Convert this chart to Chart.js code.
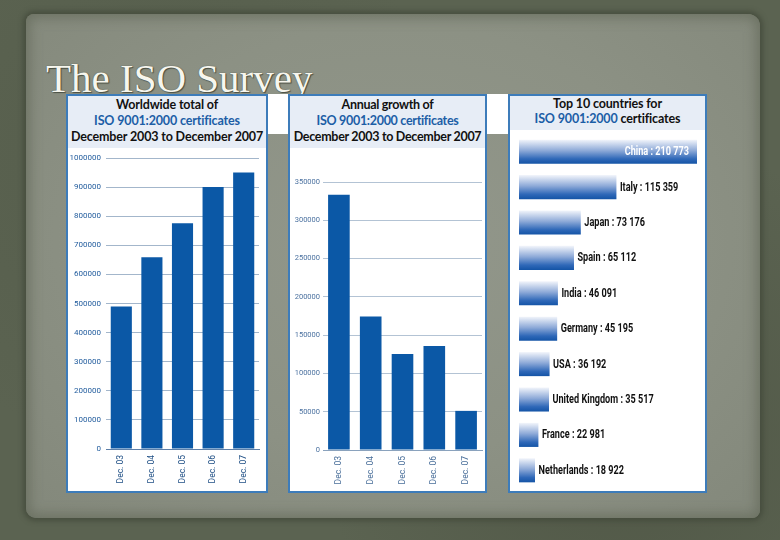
<!DOCTYPE html>
<html>
<head>
<meta charset="utf-8">
<script src="https://cdn.jsdelivr.net/npm/chart.js@4/dist/chart.umd.min.js"></script>
<style>
  html, body { margin: 0; padding: 0; }
  body {
    width: 780px; height: 540px; position: relative; overflow: hidden;
    background:
      radial-gradient(circle at 20% 30%, rgba(80,88,70,0.5) 0, rgba(80,88,70,0) 40%),
      radial-gradient(circle at 80% 80%, rgba(70,76,60,0.5) 0, rgba(70,76,60,0) 40%),
      #5b6351;
  }
  .paper {
    position: absolute; left: 26px; top: 14px; width: 734px; height: 504px;
    border-radius: 8px 12px 8px 10px;
    background: radial-gradient(ellipse at 50% 45%, #92978b 0%, #8c9184 55%, #83887b 100%);
    box-shadow: 0 0 5px 3px rgba(66,72,58,0.75), inset 0 0 12px 4px rgba(100,106,90,0.7);
  }
  .title {
    position: absolute; left: 46px; top: 57px;
    font-family: "Liberation Serif", "DejaVu Serif", serif;
    font-size: 41px; line-height: 42px; color: #f6f6ee;
    text-shadow: 0 0 1px #3b4034, 1px 1px 1px #4b5044;
  }
  .gap { position: absolute; background: #fff; top: 94px; height: 40px; }
  .panel {
    position: absolute; top: 94px; height: 399px; background: #fff;
    border: 2px solid #3d7cba; box-sizing: border-box;
  }
  .head {
    position: absolute; left: 0; top: 0; right: 0; background: #e7edf6;
    font-family: Lato, "Open Sans", sans-serif; font-weight: bold; font-size: 12.5px;
    line-height: 16px; text-align: center; color: #111; padding-top: 1px; box-sizing: border-box;
    white-space: nowrap; letter-spacing: -0.15px;
  }
  .blue { color: #1c5ea6; }
  canvas { position: absolute; }
</style>
</head>
<body>
<div class="paper"></div>
<div class="title">The ISO Survey</div>
<div class="gap" style="left:266px;width:24px"></div>
<div class="gap" style="left:485px;width:25px"></div>

<div class="panel" style="left:66px;width:202px">
  <div class="head" style="height:52px">Worldwide total of<br><span class="blue">ISO 9001:2000 certificates</span><br>December 2003 to December 2007</div>
  <canvas id="total" width="197" height="342" style="left:0;top:52px"></canvas>
</div>

<div class="panel" style="left:288px;width:199px">
  <div class="head" style="height:52px;letter-spacing:-0.3px">Annual growth of<br><span class="blue">ISO 9001:2000 certificates</span><br>December 2003 to December 2007</div>
  <canvas id="growth" width="194" height="342" style="left:0;top:52px"></canvas>
</div>

<div class="panel" style="left:508px;width:199px">
  <div class="head" style="height:34px;padding-top:0;line-height:15px">Top 10 countries for<br><span class="blue">ISO 9001:2000</span> certificates</div>
  <canvas id="top10" width="194" height="360" style="left:0;top:34px"></canvas>
</div>

<script>
const years = ['Dec. 03', 'Dec. 04', 'Dec. 05', 'Dec. 06', 'Dec. 07'];
const totalCerts = [490000, 659000, 776000, 900000, 950000];
const annualGrowth = [333500, 174200, 125300, 135700, 51100];
const countries = ['China', 'Italy', 'Japan', 'Spain', 'India', 'Germany', 'USA', 'United Kingdom', 'France', 'Netherlands'];
const countryCerts = [210773, 115359, 73176, 65112, 46091, 45195, 36192, 35517, 22981, 18922];

const barBlue = '#0b58a6';

function columnChart(id, values, opts) {
    const ctx = document.getElementById(id).getContext('2d');
    return new Chart(ctx, {
        type: 'bar',
        data: {
            labels: years,
            datasets: [{
                data: values,
                backgroundColor: barBlue,
                barPercentage: opts.barPct,
                categoryPercentage: 1,
            }],
        },
        options: {
            responsive: false,
            animation: false,
            plugins: { legend: { display: false }, tooltip: { enabled: false } },
            layout: { padding: { top: opts.top, right: opts.right, left: 0, bottom: 0 } },
            scales: {
                x: {
                    grid: { display: false, drawTicks: false },
                    border: { display: true, color: opts.zeroColor, width: 1 },
                    ticks: {
                        minRotation: 90, maxRotation: 90, padding: 6, autoSkip: false,
                        color: opts.xColor, font: { family: 'Roboto', size: 8.5 },
                    },
                    afterFit: (s) => { s.height = opts.xHeight; },
                },
                y: {
                    min: 0,
                    max: opts.max,
                    grid: { color: opts.gridColor, drawTicks: false },
                    border: { display: false },
                    ticks: {
                        stepSize: opts.step, padding: opts.labelPad,
                        color: opts.yColor, font: { family: 'Roboto', size: opts.yFont },
                        callback: (v) => String(v),
                    },
                    afterFit: (s) => { s.width = opts.yWidth; },
                },
            },
        },
    });
}

columnChart('total', totalCerts, {
    max: 1000000, step: 100000, top: 10, right: 6, yWidth: 38, xHeight: 41,
    labelPad: 5, yFont: 8, barPct: 0.69,
    gridColor: '#a3b6cb', zeroColor: '#5d7fa8', yColor: '#1f5a9c', xColor: '#1f4f85',
});

columnChart('growth', annualGrowth, {
    max: 350000, step: 50000, top: 34, right: 2, yWidth: 33, xHeight: 40,
    labelPad: 3, yFont: 7.5, barPct: 0.68,
    gridColor: '#b3c3d4', zeroColor: '#8aa2bd', yColor: '#4c72a0', xColor: '#4a6f9a',
});

// value labels next to the horizontal bars
const countryLabels = {
    id: 'countryLabels',
    afterDatasetsDraw(chart) {
        const { ctx } = chart;
        const meta = chart.getDatasetMeta(0);
        ctx.save();
        ctx.font = 'bold 12px Roboto';
        ctx.textBaseline = 'middle';
        const squeeze = 0.76;
        meta.data.forEach((bar, i) => {
            const num = countryCerts[i].toLocaleString('en-US').replace(/,/g, ' ');
            const text = `${countries[i]} : ${num}`;
            ctx.save();
            if (i === 0) {
                const w = ctx.measureText(text).width * squeeze;
                ctx.translate(bar.x - 8 - w, bar.y);
                ctx.fillStyle = '#ffffff';
            } else {
                ctx.translate(bar.x + 3.5, bar.y);
                ctx.fillStyle = '#111111';
            }
            ctx.scale(squeeze, 1);
            ctx.fillText(text, 0, 0.5);
            ctx.restore();
        });
        ctx.restore();
    },
};

new Chart(document.getElementById('top10').getContext('2d'), {
    type: 'bar',
    data: {
        labels: countries,
        datasets: [{
            data: countryCerts,
            barPercentage: 0.68,
            categoryPercentage: 1,
            backgroundColor: (c) => {
                const chart = c.chart;
                if (!chart.chartArea || c.dataIndex === undefined) return '#1656a8';
                const yc = chart.scales.y.getPixelForValue(c.dataIndex);
                const h = (chart.chartArea.bottom - chart.chartArea.top) / countries.length * 0.68;
                const g = chart.ctx.createLinearGradient(0, yc - h / 2, 0, yc + h / 2);
                g.addColorStop(0, '#f2f5fb');
                g.addColorStop(0.45, '#8eaad8');
                g.addColorStop(0.8, '#2f68b8');
                g.addColorStop(1, '#1454a6');
                return g;
            },
        }],
    },
    options: {
        indexAxis: 'y',
        responsive: false,
        animation: false,
        plugins: { legend: { display: false }, tooltip: { enabled: false } },
        layout: { padding: { top: 4, right: 7, left: 9, bottom: 2 } },
        scales: {
            x: { display: false, min: 0, max: 210773 },
            y: { display: false },
        },
    },
    plugins: [countryLabels],
});
</script>
</body>
</html>
